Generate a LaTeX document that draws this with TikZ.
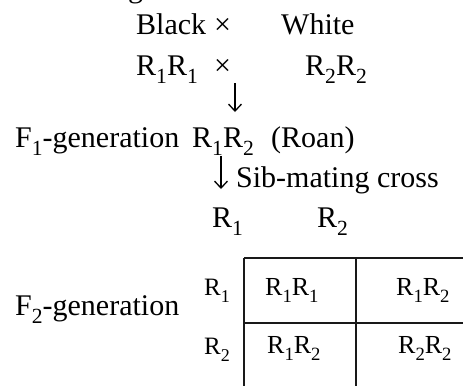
\documentclass[tikz,border=0pt]{standalone}
\usepackage{fontspec}
\setmainfont{Liberation Serif}
\usetikzlibrary{arrows.meta}
\newcommand\lowsub[1]{\raisebox{-0.28em}{\scalebox{0.72}{#1}}}
\begin{document}
\begin{tikzpicture}[x=1pt,y=-1pt,
  txt/.style={anchor=base west, inner sep=0pt, font=\fontsize{30}{36}\selectfont},
  cell/.style={anchor=base west, inner sep=0pt, font=\fontsize{26}{30}\selectfont},
  lab/.style={anchor=base west, inner sep=0pt, font=\fontsize{25}{28}\selectfont},
  arrline/.style={line width=1.3pt, -{Straight Barb[length=7pt,width=13pt,line width=1.3pt]}},
  gridline/.style={line width=1.6pt, black!90}]
\useasboundingbox (0,0) rectangle (463,386);
\node[txt] (g) at (128,-3) {g};
\node[txt] (black) at (136,34) {Black};
\node[txt] (x1) at (214,34) {×};
\node[txt] (white) at (281,34) {White};
\node[txt] (p1) at (136,75) {R\lowsub{1}R\lowsub{1}};
\node[txt] (x2) at (214,75) {×};
\node[txt] (p2) at (305,75) {R\lowsub{2}R\lowsub{2}};
\coordinate (a1s) at (235,83);
\coordinate (a1e) at (235,112);
\draw[arrline] (a1s) -- (a1e);
\node[txt] (f1) at (15,147) {F\lowsub{1}-generation};
\node[txt] (f1g) at (192,147) {R\lowsub{1}R\lowsub{2}};
\node[txt] (roan) at (271,147) {(Roan)};
\coordinate (a2s) at (221,156);
\coordinate (a2e) at (221,189);
\draw[arrline] (a2s) -- (a2e);
\node[txt] (sib) at (236,187) {Sib-mating cross};
\node[txt] (g1) at (212,227) {R\lowsub{1}};
\node[txt] (g2) at (317,227) {R\lowsub{2}};
\coordinate (tl) at (244,258);
\coordinate (tm) at (356,258);
\coordinate (tr) at (463,258);
\coordinate (ml) at (244,323);
\coordinate (mr) at (463,323);
\coordinate (bl) at (244,386);
\coordinate (bm) at (356,386);
\draw[gridline] (tl) -- (tr);
\draw[gridline] (ml) -- (mr);
\draw[gridline] (tl) -- (bl);
\draw[gridline] (tm) -- (bm);
\node[lab] (r1) at (204,295) {R\lowsub{1}};
\node[lab] (r2) at (204,354) {R\lowsub{2}};
\node[txt] (f2) at (15,315) {F\lowsub{2}-generation};
\node[cell] (c11) at (265,295) {R\lowsub{1}R\lowsub{1}};
\node[cell] (c12) at (396,295) {R\lowsub{1}R\lowsub{2}};
\node[cell] (c21) at (267,353) {R\lowsub{1}R\lowsub{2}};
\node[cell] (c22) at (398,353) {R\lowsub{2}R\lowsub{2}};
\end{tikzpicture}
\end{document}
